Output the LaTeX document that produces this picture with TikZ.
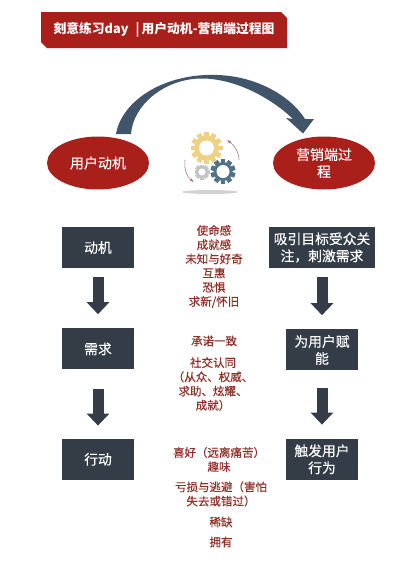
\documentclass[tikz,border=0pt]{standalone}
\usepackage{fontspec}
\setmainfont{Noto Sans CJK SC}
\newfontfamily\notefont[FakeBold=0.25]{Noto Sans CJK SC}
\usetikzlibrary{arrows.meta,positioning,shapes.geometric,shapes.misc}
\definecolor{brick}{HTML}{A9201B}
\definecolor{slate}{HTML}{343C47}
\definecolor{wine}{HTML}{8E2F28}
\definecolor{arcblue}{HTML}{41556A}
\definecolor{goldgear}{HTML}{EFD184}
\definecolor{bluegear}{HTML}{4F7489}
\definecolor{greygear}{HTML}{C4C4C4}
\definecolor{rosearrow}{HTML}{A9757A}
\tikzset{
  oval/.style={ellipse,fill=brick,text=white,minimum width=102pt,minimum height=53pt,inner sep=0pt,align=center,font=\fontsize{14}{17}\selectfont\notefont},
  darkbox/.style={fill=slate,text=white,minimum width=72pt,minimum height=41pt,inner sep=0pt,align=center,font=\fontsize{13.8}{17}\selectfont\notefont},
  note/.style={text=wine,align=center,font=\fontsize{11.5}{14.2}\selectfont\notefont,inner sep=0pt},
  downarrow/.style={draw=slate,line width=11pt,-{Triangle[length=12pt,width=22pt]}},
  smallarrow/.style={rosearrow,semithick,-{Latex[length=4pt]}},
}
\newcommand{\gearcog}[7]{% x, y, outer, inner, hole, teeth step, colour
  \begin{scope}[shift={(#1,#2)}]
    \fill[#7] (0,0) circle (#4);
    \foreach \a in {0,#6,...,359}
      \fill[#7,rotate=\a] (-2.4,#4-1) rectangle (2.4,#3);
    \fill[white] (0,0) circle (#5);
  \end{scope}
}
\begin{document}
\begin{tikzpicture}[x=1pt,y=-1pt]
\useasboundingbox (0,0) rectangle (401,565);
\node[chamfered rectangle,chamfered rectangle corners={north east,south west},chamfered rectangle xsep=3pt,chamfered rectangle ysep=3pt,
  fill=brick,text=white,inner sep=0pt,minimum width=246pt,minimum height=36pt,font=\fontsize{12.8}{14}\selectfont\bfseries] (title) at (164,30) {刻意练习day\hspace{7pt}|\hspace{2pt}用户动机-营销端过程图};
\node[oval] (user) at (98,163) {用户动机};
\node[oval] (market) at (324,163) {营销端过\\程};
\coordinate (arcstart) at (116,134);
\coordinate (arctip) at (303,133.5);
\fill[arcblue] (arcstart) .. controls (122,100) and (165,73) .. (217,75)
  .. controls (255,76) and (290,95) .. (305,119) -- (314,119) -- (arctip) -- (286,118) -- (293,119)
  .. controls (270,97) and (235,79) .. (203,78.5)
  .. controls (165,78) and (133,105) .. (131,134) -- cycle;
% gears
\gearcog{206.5}{148}{16}{12.5}{7.5}{30}{goldgear}
\gearcog{223}{171.5}{12.5}{9.5}{6.5}{36}{bluegear}
\gearcog{202}{172}{7.5}{5.5}{3.5}{45}{greygear}
\fill[gray!35] (210,192) ellipse (28 and 2);
\draw[smallarrow] (239,160) .. controls (239,152) and (234,145) .. (227,140);
\draw[smallarrow] (185,160) .. controls (184,170) and (187,177) .. (194,182);
% left column
\node[darkbox] (motive) at (98,247.5) {动机};
\node[darkbox,below=60pt of motive] (need) {需求};
\node[darkbox,below=69pt of need] (action) {行动};
\draw[downarrow,shorten <=9pt,shorten >=14pt] (motive) -- (need);
\draw[downarrow,shorten <=19pt,shorten >=13pt] (need) -- (action);
% right column
\node[darkbox,minimum width=106pt] (attract) at (322,247.5) {吸引目标受众关\\注，刺激需求};
\node[darkbox,below=61pt of attract] (enable) {为用户赋\\能};
\node[darkbox,below=68pt of enable] (trigger) {触发用户\\行为};
\draw[downarrow,shorten <=9pt,shorten >=14pt] (attract) -- (enable);
\draw[downarrow,shorten <=17pt,shorten >=14pt] (enable) -- (trigger);
% notes
\node[note] (reasons) at (214,266.5) {使命感\\成就感\\未知与好奇\\互惠\\恐惧\\求新/怀旧};
\node[note] (promise) at (214,341) {承诺一致};
\node[note] (social) at (213,384) {社交认同\\（从众、权威、\\求助、炫耀、\\成就）};
\node[note] (liking) at (219,459.5) {喜好（远离痛苦）\\趣味};
\node[note] (loss) at (221,494) {亏损与逃避（害怕\\失去或错过）};
\node[note] (scarce) at (221,522) {稀缺};
\node[note] (own) at (221,542) {拥有};
\end{tikzpicture}
\end{document}
